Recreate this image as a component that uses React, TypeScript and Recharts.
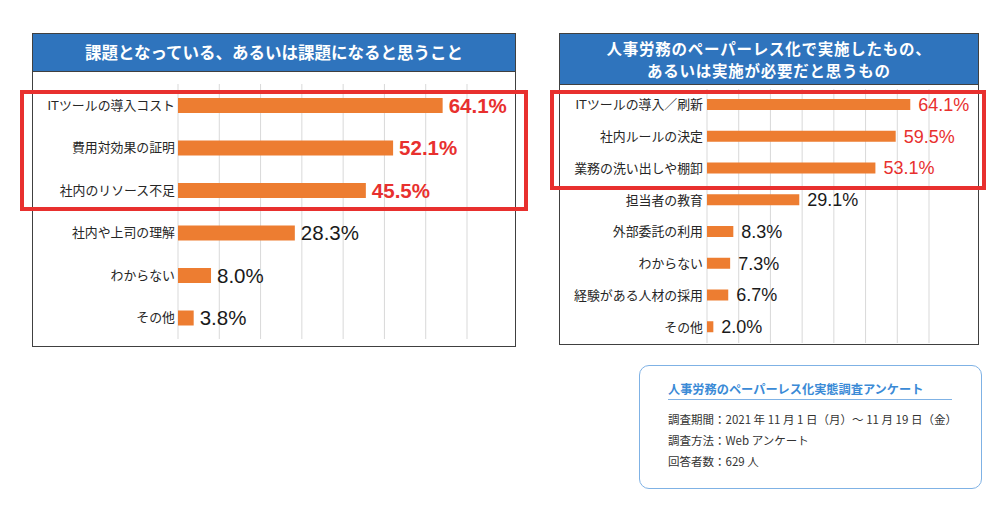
import { BarChart, Bar, XAxis, YAxis, CartesianGrid, LabelList } from 'recharts'

const leftCategories = [
  'ITツールの導入コスト',
  '費用対効果の証明',
  '社内のリソース不足',
  '社内や上司の理解',
  'わからない',
  'その他',
]
const leftValues = [64.1, 52.1, 45.5, 28.3, 8.0, 3.8]

const rightCategories = [
  'ITツールの導入／刷新',
  '社内ルールの決定',
  '業務の洗い出しや棚卸',
  '担当者の教育',
  '外部委託の利用',
  'わからない',
  '経験がある人材の採用',
  'その他',
]
const rightValues = [64.1, 59.5, 53.1, 29.1, 8.3, 7.3, 6.7, 2.0]

const xTicks = [0, 10, 20, 30, 40, 50, 60, 70]
const highlightCount = 3

const leftTitle = '課題となっている、あるいは課題になると思うこと'
const rightTitle = ['人事労務のペーパーレス化で実施したもの、', 'あるいは実施が必要だと思うもの']

const surveyTitle = '人事労務のペーパーレス化実態調査アンケート'
const surveyLines = [
  '調査期間：2021 年 11 月 1 日（月）～ 11 月 19 日（金）',
  '調査方法：Web アンケート',
  '回答者数：629 人',
]

const ORANGE = '#ED7D31'
const RED = '#E8302E'
const BLUE = '#2F74BD'
const FRAME = '#404040'
const GRID = '#D9D9D9'
const FONT = "'Liberation Sans', 'Noto Sans CJK JP', sans-serif"
const JP = "'Noto Sans CJK JP', sans-serif"

const leftData = leftCategories.map((name, i) => ({ name, value: leftValues[i] }))
const rightData = rightCategories.map((name, i) => ({ name, value: rightValues[i] }))

// value text after each bar; the first rows are the highlighted (red) ones
function valueLabel(fontSize: number, bold: boolean, gap: number) {
  return (props: any) => {
    const { x, y, width, height, value, index } = props
    const hot = index < highlightCount
    return (
      <text
        x={Number(x) + Number(width) + gap}
        y={Number(y) + Number(height) / 2}
        dy="0.36em"
        fill={hot ? RED : '#1a1a1a'}
        fontSize={fontSize}
        fontWeight={hot && bold ? 700 : 400}
        fontFamily={FONT}
      >
        {Number(value).toFixed(1)}%
      </text>
    )
  }
}

function Panel({
  left,
  top,
  width,
  height,
  titleHeight,
  children,
  title,
}: {
  left: number
  top: number
  width: number
  height: number
  titleHeight: number
  children: any
  title: string[]
}) {
  const twoLines = title.length > 1
  return (
    <div
      style={{
        position: 'absolute',
        left,
        top,
        width,
        height,
        boxSizing: 'border-box',
        border: `1.5px solid ${FRAME}`,
        background: '#fff',
      }}
    >
      <div
        style={{
          height: titleHeight,
          boxSizing: 'border-box',
          background: BLUE,
          borderBottom: `1.5px solid ${FRAME}`,
          color: '#fff',
          fontFamily: JP,
          fontWeight: 700,
          fontSize: twoLines ? 15.5 : 16.5,
          letterSpacing: twoLines ? 0.75 : 0,
          lineHeight: '22.5px',
          display: 'flex',
          flexDirection: 'column',
          justifyContent: 'center',
          alignItems: 'center',
        }}
      >
        {title.map((t) => (
          <div key={t}>{t}</div>
        ))}
      </div>
      {children}
    </div>
  )
}

export default function App() {
  return (
    <div style={{ position: 'absolute', left: 0, top: 0, width: 1000, height: 506, background: '#fff' }}>
      <Panel left={32} top={33} width={484} height={314} titleHeight={38} title={[leftTitle]}>
        <BarChart
          width={481}
          height={273}
          data={leftData}
          layout="vertical"
          margin={{ top: 12, right: 47, bottom: 6, left: 0 }}
        >
          <CartesianGrid horizontal={false} stroke={GRID} strokeWidth={1} />
          <XAxis type="number" domain={[0, 70]} ticks={xTicks} hide />
          <YAxis
            type="category"
            dataKey="name"
            width={145}
            axisLine={false}
            tickLine={false}
            tickSize={0}
            tickMargin={3}
            interval={0}
            tick={{ fill: '#262626', fontSize: 12.9, fontFamily: FONT }}
          />
          <Bar dataKey="value" fill={ORANGE} barSize={15} isAnimationActive={false}>
            <LabelList dataKey="value" content={valueLabel(20.5, true, 6)} />
          </Bar>
        </BarChart>
      </Panel>

      <Panel left={559} top={33} width={420} height={312} titleHeight={51} title={rightTitle}>
        <BarChart
          width={417}
          height={258}
          data={rightData}
          layout="vertical"
          margin={{ top: 4, right: 48, bottom: 0, left: 0 }}
        >
          <CartesianGrid horizontal={false} stroke={GRID} strokeWidth={1} />
          <XAxis type="number" domain={[0, 70]} ticks={xTicks} hide />
          <YAxis
            type="category"
            dataKey="name"
            width={147}
            axisLine={false}
            tickLine={false}
            tickSize={0}
            tickMargin={4}
            interval={0}
            tick={{ fill: '#262626', fontSize: 12.9, fontFamily: FONT }}
          />
          <Bar dataKey="value" fill={ORANGE} barSize={11} isAnimationActive={false}>
            <LabelList dataKey="value" content={valueLabel(18, false, 8)} />
          </Bar>
        </BarChart>
      </Panel>

      {/* red highlight boxes */}
      <div
        style={{
          position: 'absolute',
          left: 20,
          top: 90,
          width: 508,
          height: 121,
          boxSizing: 'border-box',
          border: `4.5px solid ${RED}`,
        }}
      />
      <div
        style={{
          position: 'absolute',
          left: 550,
          top: 90,
          width: 436,
          height: 100,
          boxSizing: 'border-box',
          border: `4.5px solid ${RED}`,
        }}
      />

      {/* survey info */}
      <div
        style={{
          position: 'absolute',
          left: 639,
          top: 365,
          width: 343,
          height: 124,
          boxSizing: 'border-box',
          border: '1.5px solid #7FB2E5',
          borderRadius: 10,
          fontFamily: JP,
          color: '#333',
        }}
      >
        <div
          style={{
            position: 'absolute',
            left: 28,
            top: 15,
            width: 284,
            paddingBottom: 2,
            borderBottom: '1.5px solid #7FB2E5',
            color: '#3A8AD6',
            fontWeight: 700,
            fontSize: 12.2,
            lineHeight: '16px',
          }}
        >
          {surveyTitle}
        </div>
        {surveyLines.map((line, i) => (
          <div
            key={line}
            style={{
              position: 'absolute',
              left: 28,
              top: 45 + i * 21,
              fontSize: 11.5,
              lineHeight: '16px',
              whiteSpace: 'nowrap',
            }}
          >
            {line}
          </div>
        ))}
      </div>
    </div>
  )
}
